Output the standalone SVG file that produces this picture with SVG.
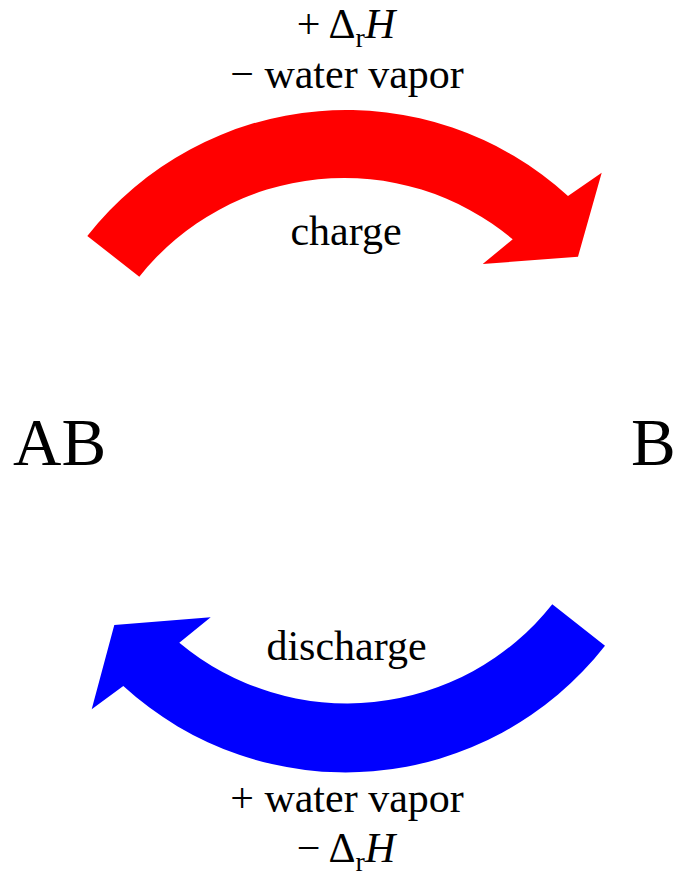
<svg xmlns="http://www.w3.org/2000/svg" width="677" height="876" viewBox="0 0 677 876">
<style>
text { font-family: "Liberation Serif", "Times New Roman", serif; fill: #000; }
.lbl { font-size: 42px; text-anchor: middle; }
.big { font-size: 67px; }
.sub { font-size: 28px; }
.it { font-style: italic; }
</style>
<rect width="677" height="876" fill="#fff"/>
<g id="connectors">
  <path id="charge-arrow" fill="#ff0000" d="M 87.3 236 A 329 329 0 0 1 568 196 L 601.7 172.7 L 578 256.7 L 482.7 264 L 512.7 239.3 A 262 262 0 0 0 139.3 276.7 Z"/>
  <path id="discharge-arrow" fill="#0000ff" d="M 605 645.7 A 329 329 0 0 1 123.3 686 L 91.7 709.3 L 114.3 625 L 210.7 617.3 L 179.3 642.7 A 262 262 0 0 0 552.3 604.3 Z"/>
</g>
<g id="label-charge-top">
  <text class="lbl" x="346" y="38">+ Δ<tspan class="sub" dy="9">r</tspan><tspan class="it" dy="-9">H</tspan></text>
  <text class="lbl" x="347" y="88">− water vapor</text>
</g>
<g id="label-charge"><text class="lbl" x="346" y="245">charge</text></g>
<g id="node-AB"><text class="big" x="13" y="465">AB</text></g>
<g id="node-B"><text class="big" x="631" y="465">B</text></g>
<g id="label-discharge"><text class="lbl" x="346.5" y="660">discharge</text></g>
<g id="label-discharge-bottom">
  <text class="lbl" x="347" y="812">+ water vapor</text>
  <text class="lbl" x="346" y="862">− Δ<tspan class="sub" dy="9">r</tspan><tspan class="it" dy="-9">H</tspan></text>
</g>
</svg>
